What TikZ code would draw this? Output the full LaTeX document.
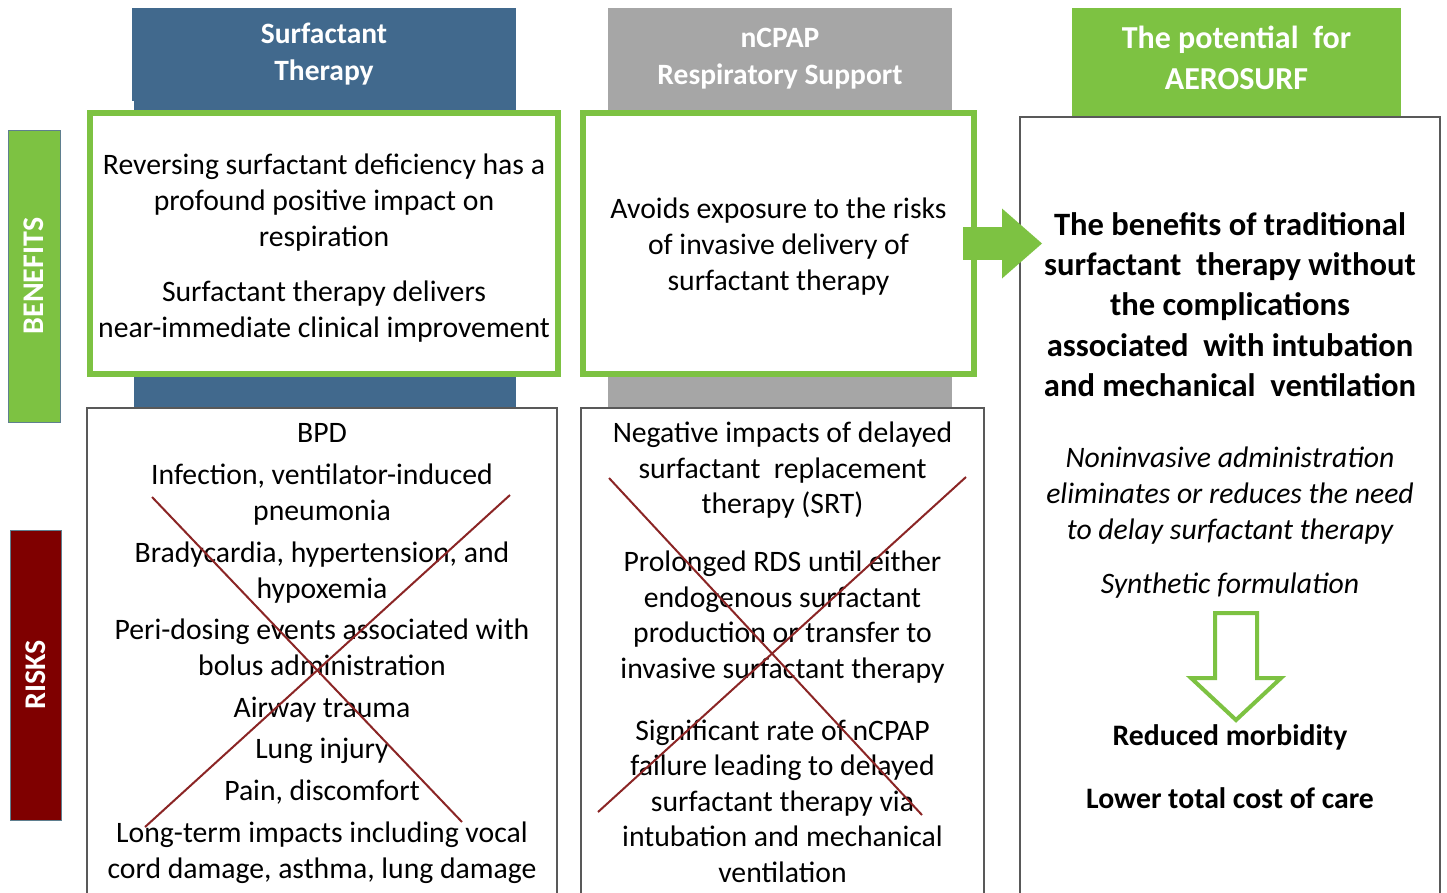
\documentclass[tikz,border=0pt]{standalone}
\usepackage{fontspec}
\setmainfont{Carlito}
\usepackage{xcolor}
\usepackage{tikz}
\usetikzlibrary{arrows.meta,positioning,calc,backgrounds}

\definecolor{surfblue}{HTML}{41698D}
\definecolor{cpapgray}{HTML}{A6A6A6}
\definecolor{aerogreen}{HTML}{7DC242}
\definecolor{riskred}{HTML}{7F0000}
\definecolor{crossred}{HTML}{8B2525}
\definecolor{framegray}{HTML}{595959}
\definecolor{baredge}{HTML}{5F7F8F}

\newcommand\bdfont{\fontsize{29.7}{36}\selectfont}
\newcommand\hdfont{\bfseries\fontsize{29.5}{37}\selectfont}
\newcommand\aerofont{\bfseries\fontsize{32}{41}\selectfont}
\newcommand\clfont{\bfseries\fontsize{32.6}{40.2}\selectfont}
\newcommand\sdfont{\bfseries\fontsize{30}{34}\selectfont}
\newcommand\sk[1]{\rule{0pt}{#1}}

\begin{document}
\begin{tikzpicture}[x=1pt,y=-1pt]
                \tikzstyle{head} = [rectangle, inner sep=0pt, outer sep=0pt, text=white, align=center, font=\hdfont]
                \tikzstyle{benefit} = [rectangle, draw=aerogreen, line width=6pt, fill=white, inner sep=0pt, outer sep=0pt, align=center, font=\bdfont]
                \tikzstyle{risk} = [rectangle, draw=framegray, line width=1.5pt, fill=white, inner sep=0pt, outer sep=0pt, align=center, font=\bdfont]
                \tikzstyle{side} = [rectangle, rotate=90, inner sep=0pt, text=white, font=\sdfont, draw=baredge, line width=1pt]
                \tikzstyle{claim} = [inner sep=0pt, align=center, font=\bdfont, on grid]
                \tikzstyle{cross} = [draw=crossred, line width=2pt]

                \useasboundingbox (0,0) rectangle (1447,892);

                \node [side, fill=aerogreen, minimum width=292pt, minimum height=52pt] (benefits) at (34,276) {BENEFITS};
                \node [side, fill=riskred, minimum width=290pt, minimum height=51pt] (risks) at (35.5,675) {RISKS};

                \node [head, fill=surfblue, minimum width=384pt, minimum height=93pt] (surf-head) at (324,54.5) {Surfactant\\Therapy};
                \node [head, fill=cpapgray, minimum width=344pt, minimum height=101pt] (cpap-head) at (780,58.5) {nCPAP\\Respiratory Support};
                \node [head, fill=aerogreen, minimum width=329pt, minimum height=99pt, font=\aerofont] (aero-head) at (1236.5,57.5) {The potential\ \ for\\AEROSURF};

                \node [benefit, minimum width=468pt, minimum height=261pt, below=12pt of surf-head] (ben-surf) {\sk{29pt}Reversing surfactant deficiency has a\\profound positive impact on\\respiration\\[19pt]Surfactant therapy delivers\\near-immediate clinical improvement};
                \node [benefit, minimum width=391pt, minimum height=261pt, below=4pt of cpap-head, xshift=-1.5pt] (ben-cpap) {\sk{27pt}Avoids exposure to the risks\\of invasive delivery of\\surfactant therapy};

                \node [risk, minimum width=470pt, minimum height=487pt, below=34pt of ben-surf, xshift=-2pt] (risk-surf) {\sk{23pt}BPD\\[5.6pt]Infection, ventilator-induced\\pneumonia\\[5.6pt]Bradycardia, hypertension, and\\hypoxemia\\[5.6pt]Peri-dosing events associated with\\bolus administration\\[5.6pt]Airway trauma\\[5.6pt]Lung injury\\[5.6pt]Pain, discomfort\\[5.6pt]Long-term impacts including vocal\\cord damage, asthma, lung damage};
                \node [risk, minimum width=403pt, minimum height=487pt, below=34pt of ben-cpap, xshift=4pt, font=\fontsize{29.7}{35.5}\selectfont] (risk-cpap) {\sk{22pt}Negative impacts of delayed\\surfactant\ \ replacement\\therapy (SRT)\\[22.5pt]Prolonged RDS until either\\endogenous surfactant\\production or transfer to\\invasive surfactant therapy\\[26.5pt]Significant rate of nCPAP\\failure leading to delayed\\surfactant therapy via\\intubation and mechanical\\ventilation};
                \node [risk, line width=2pt, minimum width=420pt, minimum height=778pt, below=10pt of aero-head, xshift=-6.5pt] (aero-box) {};

                \begin{scope}[on background layer]
                \fill [surfblue] ([xshift=2pt]surf-head.south west) rectangle (risk-surf.north -| surf-head.east);
                \fill [cpapgray] (cpap-head.south west) rectangle (risk-cpap.north -| cpap-head.east);
                \fill [aerogreen] (aero-head.south west) rectangle (aero-box.north -| aero-head.east);
                \end{scope}

                \node [claim, font=\clfont] (aero-main) at (1230,304.5) {The benefits of traditional\\surfactant\ \ therapy without\\the complications\\associated\ \ with intubation\\and mechanical\ \ ventilation};
                \node [claim, font=\bdfont\itshape, below=191pt of aero-main] (aero-note) {Noninvasive administration\\eliminates or reduces the need\\to delay surfactant therapy};
                \node [claim, font=\bdfont\itshape, below=90.5pt of aero-note] (aero-synth) {Synthetic formulation};
                \node [claim, font=\bdfont\bfseries, below=151pt of aero-synth] (aero-red) {Reduced morbidity};
                \node [claim, font=\bdfont\bfseries, below=61pt of aero-red] (aero-cost) {Lower total cost of care};

                \draw [aerogreen, line width=33pt, -{Triangle[length=40pt,width=70pt,line width=0pt]}] ($(ben-cpap.east)+(-11,0)$) -- ($(ben-cpap.east -| aero-box.west)+(22,0)$);
                \draw [aerogreen, line width=4pt, fill=white, line join=miter] (1215,613) -- (1257,613) -- (1257,678) -- (1281,678) -- (1236,720) -- (1191,678) -- (1215,678) -- cycle;

                \draw [cross] (152,497) -- (462,822);
                \draw [cross] (510,495) -- (145,827);
                \draw [cross] (609,478) -- (922,815);
                \draw [cross] (966,477) -- (598,812);
\end{tikzpicture}
\end{document}
